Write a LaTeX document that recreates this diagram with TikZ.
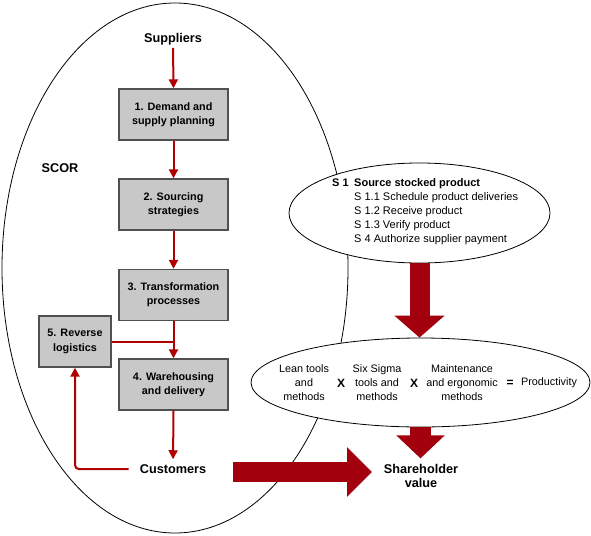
\documentclass[tikz,border=0pt]{standalone}
\usepackage{fontspec}
\setmainfont{Liberation Sans}
\usetikzlibrary{arrows.meta,shapes.geometric}
\definecolor{thinred}{HTML}{B00000}
\definecolor{bigred}{HTML}{A2000C}
\definecolor{boxfill}{HTML}{C8C8C8}
\definecolor{boxline}{HTML}{505050}
\tikzset{
  stepbox/.style={draw=boxline, line width=1.4pt, fill=boxfill, minimum width=109pt, minimum height=51pt, inner sep=0pt, align=center, font=\fontsize{10.8}{14.2}\selectfont\bfseries},
  smallbox/.style={stepbox, minimum width=72pt},
  biglabel/.style={inner sep=0pt, anchor=base, font=\fontsize{12.7}{14}\selectfont\bfseries},
  thinarrow/.style={draw=thinred, line width=2pt, -{Triangle[length=9pt,width=9pt]}},
  thinline/.style={draw=thinred, line width=2pt},
  bigarrow/.style={draw=bigred, line cap=butt},
  ell/.style={draw=black, line width=0.8pt, ellipse, inner sep=0pt},
  eqtext/.style={inner sep=0pt, align=center, font=\fontsize{10.8}{14}\selectfont},
  opsym/.style={inner sep=0pt, font=\fontsize{12}{14}\selectfont\bfseries}
}
\begin{document}
\begin{tikzpicture}[x=1pt,y=-1pt]
\useasboundingbox (0,0) rectangle (591,535);
% big SCOR ellipse
\node[ell, minimum width=346pt, minimum height=530pt] (scor) at (175,268) {};
% ellipses on the right
\node[ell, fill=white, minimum width=261pt, minimum height=100pt] (src) at (419.5,213) {};
\node[ell, fill=white, minimum width=339pt, minimum height=89pt] (low) at (420.5,382.5) {};

% labels
\node[biglabel] (sup) at (173,42) {Suppliers};
\node[biglabel] (cust) at (173,473) {Customers};
\node[biglabel] (scorlbl) at (60,172) {SCOR};
\node[inner sep=0pt, align=center, font=\fontsize{12.7}{13.5}\selectfont\bfseries] (sv) at (421,476) {Shareholder\\value};

% boxes
\node[stepbox] (b1) at (173.5,114.5) {1. Demand and\\supply planning};
\node[stepbox] (b2) at (173.5,204.5) {2. Sourcing\\strategies};
\node[stepbox] (b3) at (173.5,295) {3. Transformation\\processes};
\node[stepbox] (b4) at (173.5,384.5) {4. Warehousing\\and delivery};
\node[smallbox] (b5) at (75,341.5) {5. Reverse\\logistics};

% thin arrows
\draw[thinarrow, shorten <=3pt] (sup.south) -- (b1.north);
\draw[thinarrow] (b1.south) -- (b2.north);
\draw[thinarrow] (b2.south) -- (b3.north);
\draw[thinarrow] (b3.south) -- (b4.north);
\draw[thinarrow, shorten >=4.7pt] (b4.south) -- (cust.north);
\draw[thinline] (b5.east) -- (b5.east -| b4.north);
\draw[thinarrow, rounded corners=4pt] ([xshift=-11pt,yshift=-0.5pt]cust.west) -| (b5.south);

% upper ellipse text
\node[inner sep=0pt, anchor=base west, font=\fontsize{11}{14.2}\selectfont] (srctext) at (332,186)
 {\begin{tabular}[t]{@{}l@{\hspace{5.5pt}}l@{}}
 \textbf{S 1} & \textbf{Source stocked product}\\
 & S 1.1 Schedule product deliveries\\
 & S 1.2 Receive product\\
 & S 1.3 Verify product\\
 & S 4 Authorize supplier payment
 \end{tabular}};

% lower ellipse text
\node[eqtext] (lean) at (304,382.3) {Lean tools\\and\\methods};
\node[opsym] (x1) at (341,383) {X};
\node[eqtext] (six) at (377,382.3) {Six Sigma\\tools and\\methods};
\node[opsym] (x2) at (414,383) {X};
\node[eqtext] (mnt) at (462,382.3) {Maintenance\\and ergonomic\\methods};
\node[opsym] (eq) at (510,383) {=};
\node[eqtext] (prod) at (549,383) {Productivity};

% big arrows
\draw[bigarrow, line width=20pt, -{Triangle[length=22pt,width=49pt]}] (src.south) -- (src.south |- low.north);
\draw[bigarrow, line width=21pt, -{Triangle[length=23pt,width=47pt]}] (low.south) -- ([yshift=-31pt]low.south);
\coordinate (hstart) at (233,472);
\draw[bigarrow, line width=20pt, -{Triangle[length=25pt,width=48pt]}] (hstart) -- (372,472);
\end{tikzpicture}
\end{document}
